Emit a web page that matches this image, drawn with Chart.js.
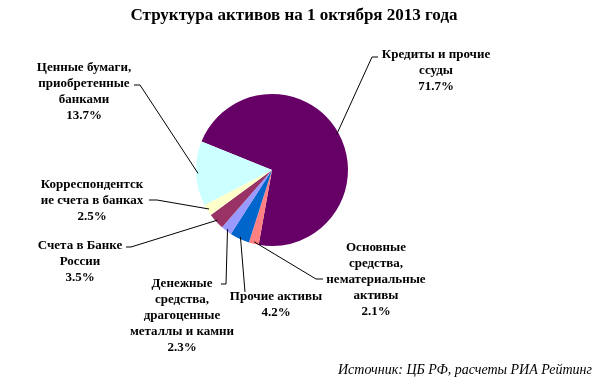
<!DOCTYPE html>
<html>
<head>
<meta charset="utf-8">
<script src="https://cdn.jsdelivr.net/npm/chart.js@4/dist/chart.umd.min.js"></script>
<style>
    html, body { margin: 0; padding: 0; background: #ffffff; }
    #wrap { width: 600px; height: 382px; }
</style>
</head>
<body>
<div id="wrap"><canvas id="assetsPieChart" width="600" height="382"></canvas></div>
<script>
// Data
const categories = [
    'Кредиты и прочие ссуды',
    'Основные средства, нематериальные активы',
    'Прочие активы',
    'Денежные средства, драгоценные металлы и камни',
    'Счета в Банке России',
    'Корреспондентские счета в банках',
    'Ценные бумаги, приобретенные банками'
];
const shares = [71.7, 2.1, 4.2, 2.3, 3.5, 2.5, 13.7];
// label text as it is wrapped on the picture
const labelLines = [
    ['Кредиты и прочие', 'ссуды'],
    ['Основные', 'средства,', 'нематериальные', 'активы'],
    ['Прочие активы'],
    ['Денежные', 'средства,', 'драгоценные', 'металлы и камни'],
    ['Счета в Банке', 'России'],
    ['Корреспондентск', 'ие счета в банках'],
    ['Ценные бумаги,', 'приобретенные', 'банками']
];
const sliceColors = ['#660066', '#ff8080', '#0066cc', '#9999ff', '#993366', '#ffffcc', '#ccffff'];

const titleText = 'Структура активов на 1 октября 2013 года';
const sourceText = 'Источник: ЦБ РФ, расчеты РИА Рейтинг';

// layout of the labels: text centre x, first line y, leader elbow and tick end
const labelLayout = [
    { x: 436, y: 55, elbow: [372, 57], tick: [378, 57] },
    { x: 376, y: 248, elbow: [316, 279], tick: [323, 279] },
    { x: 276, y: 297, elbow: [245, 292], tick: [245, 292] },
    { x: 182, y: 284, elbow: [226, 284], tick: [221, 284] },
    { x: 80, y: 246, elbow: [131, 247], tick: [126, 247] },
    { x: 92, y: 185, elbow: [157, 200], tick: [149, 200] },
    { x: 84, y: 68, elbow: [140, 85], tick: [134, 85] }
];

const labelsPlugin = {
    id: 'sliceLabels',
    afterDraw(chart) {
        const ctx = chart.ctx;
        const meta = chart.getDatasetMeta(0);
        ctx.save();

        // title
        ctx.fillStyle = '#000';
        ctx.font = 'bold 17px "Liberation Serif", "DejaVu Serif", serif';
        ctx.textAlign = 'center';
        ctx.textBaseline = 'middle';
        ctx.fillText(titleText, 294, 16);

        // leaders + labels
        meta.data.forEach((arc, i) => {
            const p = arc.getProps(['x', 'y', 'startAngle', 'endAngle', 'outerRadius'], true);
            const mid = (p.startAngle + p.endAngle) / 2;
            const r = p.outerRadius - 2;
            const sx = p.x + Math.cos(mid) * r;
            const sy = p.y + Math.sin(mid) * r;
            const lay = labelLayout[i];

            ctx.strokeStyle = '#000';
            ctx.lineWidth = 1;
            ctx.beginPath();
            ctx.moveTo(sx, sy);
            ctx.lineTo(lay.elbow[0], lay.elbow[1]);
            ctx.lineTo(lay.tick[0], lay.tick[1]);
            ctx.stroke();

            ctx.font = 'bold 13px "Liberation Serif", "DejaVu Serif", serif';
            ctx.textAlign = 'center';
            ctx.textBaseline = 'middle';
            ctx.fillStyle = '#000';
            const lines = labelLines[i].concat([shares[i].toFixed(1) + '%']);
            lines.forEach((t, k) => {
                ctx.fillText(t, lay.x, lay.y + k * 16);
            });
        });

        // source note
        ctx.font = 'italic 14px "Liberation Serif", "DejaVu Serif", serif';
        ctx.textAlign = 'right';
        ctx.fillText(sourceText, 592, 370);
        ctx.restore();
    }
};

new Chart(document.getElementById('assetsPieChart'), {
    type: 'pie',
    data: {
        labels: categories,
        datasets: [{
            data: shares,
            backgroundColor: sliceColors,
            borderWidth: 0
        }]
    },
    options: {
        responsive: false,
        animation: false,
        rotation: -68,
        layout: {
            padding: { left: 196, right: 252, top: 94, bottom: 136 }
        },
        plugins: {
            legend: { display: false },
            tooltip: { enabled: false },
            title: { display: false }
        }
    },
    plugins: [labelsPlugin]
});
</script>
</body>
</html>
